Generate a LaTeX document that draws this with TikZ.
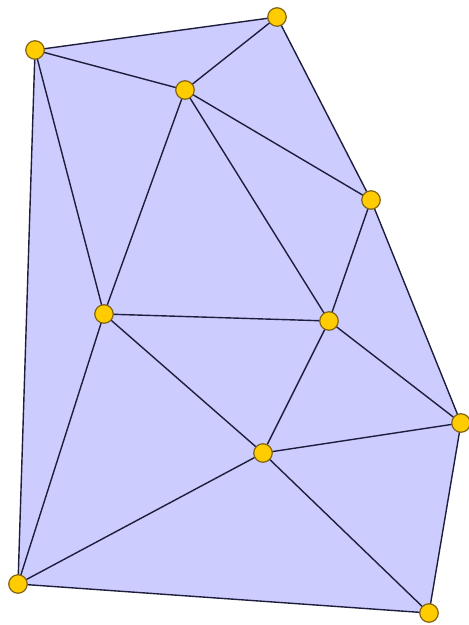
\documentclass[tikz,border=0pt]{standalone}
\definecolor{regionfill}{RGB}{204,204,255}
\definecolor{edgecol}{RGB}{30,30,60}
\definecolor{ptfill}{RGB}{255,204,0}
\definecolor{ptdraw}{RGB}{130,100,20}
\tikzset{
  pt/.style={circle, fill=ptfill, draw=ptdraw, line width=1.2pt, minimum size=18.5pt, inner sep=0pt},
  edge/.style={draw=edgecol, line width=1.4pt}
}
\begin{document}
\begin{tikzpicture}[x=1pt,y=-1pt]
\useasboundingbox (0,0) rectangle (469,625);
\coordinate (a) at (35,50);
\coordinate (b) at (277,17);
\coordinate (c) at (185,90);
\coordinate (d) at (371,200);
\coordinate (e) at (104,314);
\coordinate (f) at (329,321);
\coordinate (g) at (461,423);
\coordinate (h) at (263,453);
\coordinate (i) at (18,584);
\coordinate (j) at (429,613);
\fill[regionfill] (a) -- (b) -- (d) -- (g) -- (j) -- (i) -- cycle;
\foreach \u/\v in {a/b,a/c,a/e,a/i,b/c,b/d,c/d,c/e,c/f,d/f,d/g,e/f,e/h,e/i,f/h,f/g,g/h,g/j,h/i,h/j,i/j}
  \draw[edge] (\u) -- (\v);
\foreach \n in {a,b,c,d,e,f,g,h,i,j}
  \node[pt] (n\n) at (\n) {};
\end{tikzpicture}
\end{document}
